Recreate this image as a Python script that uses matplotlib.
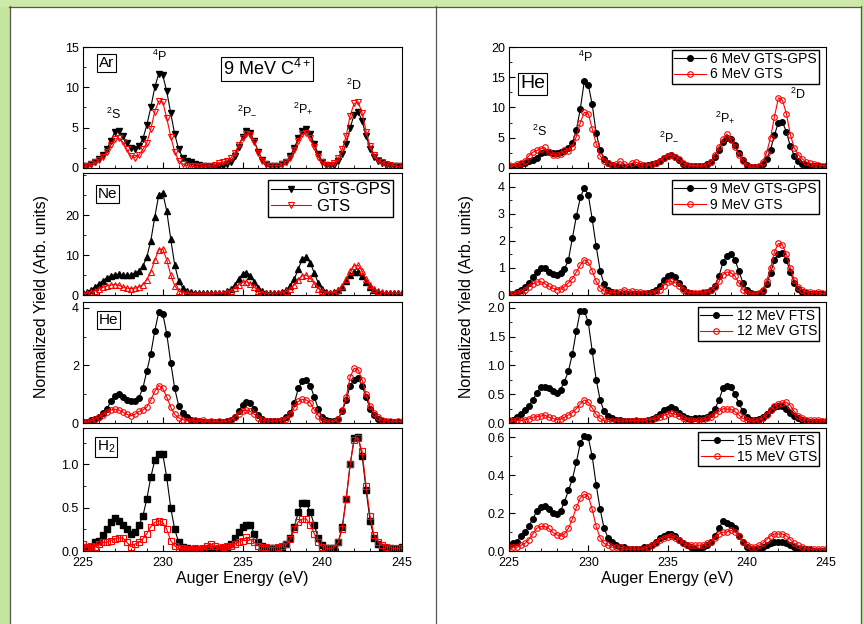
import numpy as np
import matplotlib.pyplot as plt
from matplotlib.patches import Rectangle
from matplotlib.lines import Line2D
from matplotlib.ticker import MultipleLocator, AutoMinorLocator

plt.rcParams["font.family"] = ["Liberation Sans", "DejaVu Sans"]
plt.rcParams["mathtext.fontset"] = "custom"
plt.rcParams["mathtext.rm"] = "Liberation Sans"
plt.rcParams["mathtext.it"] = "Liberation Sans:italic"
plt.rcParams["mathtext.bf"] = "Liberation Sans:bold"

# Auger energy grid (eV), 0.25 eV steps from 225 to 245
energy = np.linspace(225, 245, 81)

# ---- left column: 9 MeV C4+ on different targets ----
ar_gps = [0.2, 0.3, 0.5, 0.8, 1.1, 1.6, 2.3, 3.4,
          4.5, 4.6, 4.0, 3.1, 2.5, 2.4, 2.7, 3.6,
          5.3, 7.5, 10.0, 11.7, 11.5, 9.5, 6.8, 4.2,
          2.3, 1.3, 0.9, 0.7, 0.5, 0.4, 0.3, 0.2,
          0.1, 0.1, 0.2, 0.3, 0.5, 0.8, 1.5, 2.6,
          3.9, 4.6, 4.3, 3.3, 2.0, 1.0, 0.5, 0.3,
          0.2, 0.3, 0.5, 0.8, 1.5, 2.5, 3.7, 4.6,
          4.8, 4.2, 3.0, 1.7, 0.8, 0.4, 0.3, 0.4,
          0.9, 1.7, 3.0, 5.0, 6.6, 7.0, 5.8, 4.0,
          2.4, 1.4, 0.9, 0.6, 0.4, 0.3, 0.2, 0.2, 0.1]
ar_gts = [0.1, 0.3, 0.5, 0.7, 1.0, 1.4, 2.0, 2.9,
          3.6, 3.7, 3.2, 2.3, 1.5, 1.3, 1.6, 2.3,
          3.1, 4.8, 7.0, 8.3, 8.2, 6.2, 3.9, 2.0,
          0.9, 0.5, 0.3, 0.2, 0.2, 0.1, 0.2, 0.3,
          0.3, 0.4, 0.6, 0.7, 0.9, 1.2, 1.8, 2.8,
          3.7, 4.2, 4.1, 3.2, 1.9, 0.9, 0.5, 0.3,
          0.3, 0.3, 0.5, 0.8, 1.3, 2.2, 3.4, 4.2,
          4.3, 3.7, 2.6, 1.4, 0.7, 0.4, 0.4, 0.6,
          1.2, 2.3, 4.0, 6.5, 8.0, 8.2, 6.8, 4.5,
          2.7, 1.6, 1.0, 0.7, 0.5, 0.4, 0.3, 0.2, 0.2]

ne_gps = [0.5, 0.8, 1.3, 2.0, 2.8, 3.6, 4.3, 4.8,
          5.1, 5.2, 5.0, 4.9, 5.0, 5.4, 6.0, 7.2,
          9.5, 13.5, 19.5, 25.0, 25.5, 21.0, 14.0, 7.5,
          3.5, 1.8, 1.1, 0.8, 0.6, 0.5, 0.5, 0.4,
          0.4, 0.4, 0.5, 0.6, 0.9, 1.4, 2.5, 4.0,
          5.2, 5.6, 4.8, 3.2, 1.8, 1.0, 0.6, 0.5,
          0.5, 0.6, 0.8, 1.3, 2.3, 4.0, 6.5, 9.0,
          9.5, 8.0, 5.5, 3.0, 1.4, 0.8, 0.6, 0.7,
          1.2, 2.0, 3.5, 5.0, 5.8, 5.8, 4.8, 3.3,
          2.0, 1.2, 0.8, 0.6, 0.5, 0.5, 0.4, 0.4, 0.4]
ne_gts = [0.3, 0.5, 0.8, 1.1, 1.5, 1.9, 2.3, 2.5,
          2.6, 2.4, 2.0, 1.7, 1.6, 1.7, 2.0, 2.6,
          3.8, 5.8, 8.7, 11.3, 11.5, 8.8, 5.0, 2.3,
          1.0, 0.6, 0.4, 0.3, 0.3, 0.3, 0.3, 0.3,
          0.3, 0.4, 0.4, 0.5, 0.7, 1.0, 1.7, 2.6,
          3.2, 3.3, 2.8, 1.9, 1.1, 0.6, 0.4, 0.4,
          0.4, 0.5, 0.6, 0.9, 1.5, 2.5, 3.8, 4.8,
          5.0, 4.2, 2.8, 1.6, 0.9, 0.6, 0.5, 0.6,
          1.2, 2.3, 4.0, 6.0, 7.3, 7.4, 6.0, 4.0,
          2.4, 1.4, 0.9, 0.7, 0.5, 0.5, 0.4, 0.4, 0.3]

he_gps = [0.03, 0.05, 0.1, 0.15, 0.22, 0.35, 0.5, 0.75,
          0.95, 1.0, 0.9, 0.8, 0.75, 0.78, 0.88, 1.2,
          1.8, 2.4, 3.2, 3.85, 3.8, 3.1, 2.1, 1.2,
          0.6, 0.35, 0.2, 0.12, 0.08, 0.06, 0.05, 0.04,
          0.03, 0.03, 0.03, 0.04, 0.06, 0.1, 0.2, 0.4,
          0.62, 0.72, 0.7, 0.5, 0.28, 0.14, 0.08, 0.06,
          0.06, 0.08, 0.12, 0.2, 0.35, 0.7, 1.2, 1.45,
          1.5, 1.3, 0.9, 0.5, 0.22, 0.1, 0.06, 0.06,
          0.15, 0.4, 0.8, 1.3, 1.5, 1.55, 1.3, 0.9,
          0.5, 0.28, 0.15, 0.08, 0.05, 0.04, 0.03, 0.03, 0.03]
he_gts = [0.03, 0.05, 0.08, 0.15, 0.2, 0.28, 0.38, 0.45,
          0.48, 0.45, 0.38, 0.3, 0.25, 0.3, 0.4, 0.45,
          0.55, 0.8, 1.1, 1.3, 1.2, 0.9, 0.55, 0.3,
          0.18, 0.12, 0.08, 0.06, 0.1, 0.06, 0.1, 0.05,
          0.08, 0.05, 0.06, 0.04, 0.06, 0.1, 0.2, 0.32,
          0.42, 0.45, 0.4, 0.3, 0.18, 0.1, 0.07, 0.06,
          0.08, 0.07, 0.1, 0.15, 0.3, 0.55, 0.75, 0.82,
          0.8, 0.7, 0.45, 0.25, 0.1, 0.05, 0.04, 0.05,
          0.15, 0.45, 0.9, 1.6, 1.9, 1.85, 1.5, 1.0,
          0.6, 0.35, 0.2, 0.1, 0.08, 0.06, 0.05, 0.07, 0.05]

h2_gps = [0.05, 0.03, 0.05, 0.1, 0.12, 0.18, 0.25, 0.33,
          0.38, 0.35, 0.3, 0.25, 0.2, 0.22, 0.3, 0.4,
          0.6, 0.85, 1.05, 1.12, 1.12, 0.85, 0.5, 0.25,
          0.1, 0.05, 0.03, 0.02, 0.02, 0.02, 0.02, 0.03,
          0.02, 0.02, 0.03, 0.03, 0.05, 0.08, 0.15, 0.22,
          0.28, 0.3, 0.3, 0.2, 0.1, 0.06, 0.04, 0.03,
          0.03, 0.04, 0.05, 0.08, 0.15, 0.28, 0.45, 0.55,
          0.55, 0.45, 0.3, 0.15, 0.07, 0.03, 0.03, 0.03,
          0.1, 0.28, 0.6, 1.0, 1.3, 1.32, 1.1, 0.7,
          0.35, 0.15, 0.08, 0.05, 0.04, 0.03, 0.02, 0.02, 0.05]
h2_gts = [0.08, 0.05, 0.06, 0.05, 0.08, 0.1, 0.1, 0.12,
          0.14, 0.15, 0.15, 0.1, 0.05, 0.08, 0.1, 0.14,
          0.2, 0.28, 0.33, 0.35, 0.33, 0.25, 0.12, 0.06,
          0.03, 0.03, 0.02, 0.02, 0.03, 0.02, 0.04, 0.06,
          0.08, 0.06, 0.04, 0.05, 0.06, 0.06, 0.08, 0.1,
          0.12, 0.16, 0.13, 0.1, 0.06, 0.05, 0.05, 0.04,
          0.04, 0.05, 0.06, 0.08, 0.14, 0.25, 0.34, 0.37,
          0.37, 0.3, 0.2, 0.1, 0.05, 0.03, 0.03, 0.04,
          0.1, 0.25, 0.6, 1.0, 1.28, 1.3, 1.15, 0.75,
          0.4, 0.18, 0.1, 0.07, 0.05, 0.04, 0.03, 0.03, 0.04]

# ---- right column: He target, different projectile energies ----
mev6_gps = [0.1, 0.2, 0.3, 0.6, 0.9, 1.2, 1.4, 1.6,
            2.5, 2.7, 2.6, 2.5, 2.5, 2.6, 2.8, 3.3,
            4.2, 6.3, 9.8, 14.3, 13.8, 10.5, 5.8, 3.0,
            1.5, 0.8, 0.5, 0.3, 0.2, 0.2, 0.2, 0.3,
            0.2, 0.3, 0.4, 0.5, 0.6, 0.8, 1.2, 1.7,
            2.0, 2.1, 1.8, 1.3, 0.7, 0.4, 0.3, 0.3,
            0.3, 0.4, 0.6, 1.0, 1.8, 3.0, 4.3, 5.0,
            4.8, 3.8, 2.5, 1.3, 0.5, 0.2, 0.1, 0.2,
            0.6, 1.5, 3.0, 5.5, 7.5, 7.6, 6.0, 3.6,
            2.0, 1.1, 0.7, 0.5, 0.4, 0.3, 0.3, 0.2, 0.3]
mev6_gts = [0.5, 0.3, 0.6, 0.8, 1.2, 2.0, 2.6, 2.9,
            3.2, 3.4, 2.6, 2.2, 2.1, 2.3, 2.9, 2.8,
            3.5, 5.2, 7.5, 9.2, 9.0, 6.5, 4.0, 2.0,
            1.2, 0.8, 0.5, 0.6, 1.1, 0.7, 0.4, 0.8,
            1.0, 0.6, 0.5, 0.4, 0.6, 0.8, 1.2, 1.7,
            2.0, 2.2, 1.9, 1.5, 0.8, 0.5, 0.4, 0.4,
            0.4, 0.3, 0.5, 1.0, 2.2, 3.5, 4.8, 5.6,
            4.6, 3.5, 2.2, 1.2, 0.4, 0.1, 0.1, 0.3,
            1.0, 2.5, 5.0, 8.5, 11.6, 11.2, 9.0, 5.5,
            3.3, 2.2, 1.5, 1.0, 0.8, 0.6, 0.5, 0.4, 0.3]

mev9_gps = [0.02, 0.05, 0.1, 0.18, 0.28, 0.45, 0.65, 0.85,
            1.0, 1.0, 0.85, 0.78, 0.75, 0.8, 0.95, 1.3,
            2.1, 2.9, 3.6, 3.95, 3.7, 2.8, 1.8, 0.9,
            0.4, 0.2, 0.12, 0.08, 0.05, 0.04, 0.03, 0.03,
            0.03, 0.03, 0.04, 0.06, 0.1, 0.2, 0.35, 0.55,
            0.7, 0.75, 0.65, 0.45, 0.25, 0.12, 0.07, 0.05,
            0.05, 0.06, 0.1, 0.18, 0.35, 0.7, 1.2, 1.45,
            1.5, 1.3, 0.9, 0.45, 0.2, 0.08, 0.05, 0.05,
            0.15, 0.4, 0.8, 1.3, 1.5, 1.55, 1.3, 0.85,
            0.45, 0.22, 0.12, 0.08, 0.05, 0.04, 0.03, 0.03, 0.03]
mev9_gts = [0.05, 0.02, 0.08, 0.12, 0.2, 0.3, 0.4, 0.48,
            0.5, 0.42, 0.32, 0.25, 0.2, 0.22, 0.3, 0.45,
            0.6, 0.85, 1.1, 1.3, 1.2, 0.9, 0.5, 0.25,
            0.15, 0.1, 0.08, 0.1, 0.12, 0.2, 0.1, 0.15,
            0.1, 0.12, 0.08, 0.06, 0.06, 0.1, 0.2, 0.35,
            0.48, 0.5, 0.45, 0.35, 0.2, 0.1, 0.08, 0.08,
            0.08, 0.1, 0.12, 0.18, 0.3, 0.5, 0.75, 0.85,
            0.82, 0.7, 0.45, 0.2, 0.08, 0.05, 0.05, 0.08,
            0.2, 0.5, 1.0, 1.6, 1.9, 1.85, 1.5, 1.0,
            0.55, 0.3, 0.18, 0.12, 0.1, 0.08, 0.1, 0.06, 0.05]

mev12_fts = [0.03, 0.06, 0.1, 0.15, 0.22, 0.3, 0.4, 0.52,
             0.62, 0.63, 0.6, 0.55, 0.52, 0.58, 0.72, 0.9,
             1.2, 1.6, 1.95, 1.95, 1.75, 1.25, 0.75, 0.4,
             0.2, 0.12, 0.08, 0.06, 0.05, 0.04, 0.04, 0.03,
             0.03, 0.03, 0.04, 0.05, 0.07, 0.1, 0.15, 0.22,
             0.25, 0.28, 0.25, 0.18, 0.12, 0.08, 0.07, 0.08,
             0.08, 0.08, 0.1, 0.15, 0.25, 0.4, 0.6, 0.65,
             0.62, 0.5, 0.35, 0.2, 0.1, 0.06, 0.05, 0.07,
             0.1, 0.15, 0.22, 0.28, 0.3, 0.3, 0.25, 0.18,
             0.12, 0.08, 0.05, 0.03, 0.02, 0.01, 0.01, 0.01, 0.02]
mev12_gts = [0.05, 0.03, 0.05, 0.04, 0.06, 0.07, 0.1, 0.11,
             0.12, 0.14, 0.1, 0.08, 0.06, 0.07, 0.1, 0.14,
             0.18, 0.25, 0.33, 0.4, 0.36, 0.26, 0.15, 0.08,
             0.04, 0.03, 0.03, 0.04, 0.03, 0.03, 0.04, 0.04,
             0.05, 0.04, 0.04, 0.06, 0.06, 0.08, 0.1, 0.13,
             0.15, 0.17, 0.15, 0.12, 0.08, 0.06, 0.05, 0.04,
             0.05, 0.06, 0.08, 0.1, 0.15, 0.2, 0.25, 0.24,
             0.24, 0.2, 0.14, 0.08, 0.05, 0.03, 0.03, 0.05,
             0.08, 0.14, 0.22, 0.3, 0.33, 0.35, 0.36, 0.3,
             0.2, 0.12, 0.08, 0.06, 0.05, 0.05, 0.05, 0.04, 0.04]

mev15_fts = [0.03, 0.04, 0.05, 0.08, 0.1, 0.13, 0.17, 0.21,
             0.235, 0.24, 0.22, 0.2, 0.195, 0.21, 0.26, 0.32,
             0.38, 0.47, 0.57, 0.61, 0.6, 0.5, 0.35, 0.22,
             0.12, 0.07, 0.05, 0.03, 0.02, 0.02, 0.01, 0.01,
             0.01, 0.01, 0.02, 0.02, 0.03, 0.05, 0.07, 0.08,
             0.09, 0.09, 0.08, 0.06, 0.04, 0.03, 0.02, 0.01,
             0.0, 0.02, 0.03, 0.05, 0.08, 0.12, 0.16, 0.15,
             0.14, 0.12, 0.08, 0.05, 0.02, 0.01, 0.01, 0.01,
             0.02, 0.03, 0.04, 0.05, 0.05, 0.05, 0.04, 0.03,
             0.02, 0.01, 0.01, 0.01, 0.01, 0.0, 0.0, 0.0, 0.0]
mev15_gts = [0.02, 0.02, 0.02, 0.03, 0.04, 0.06, 0.09, 0.12,
             0.13, 0.13, 0.12, 0.1, 0.085, 0.08, 0.09, 0.12,
             0.17, 0.23, 0.28, 0.3, 0.29, 0.22, 0.13, 0.07,
             0.04, 0.03, 0.02, 0.02, 0.02, 0.01, 0.01, 0.01,
             0.01, 0.01, 0.01, 0.02, 0.03, 0.04, 0.06, 0.07,
             0.075, 0.08, 0.07, 0.06, 0.04, 0.03, 0.03, 0.03,
             0.03, 0.03, 0.04, 0.05, 0.07, 0.09, 0.1, 0.1,
             0.11, 0.1, 0.08, 0.05, 0.03, 0.02, 0.02, 0.03,
             0.04, 0.06, 0.08, 0.09, 0.09, 0.09, 0.08, 0.06,
             0.04, 0.03, 0.02, 0.01, 0.01, 0.01, 0.01, 0.01, 0.01]

peak_labels = [r"$^2$S", r"$^4$P", r"$^2$P$_{-}$", r"$^2$P$_{+}$", r"$^2$D"]
left_peak_pos = [(226.9, 6.7), (229.8, 13.8), (235.3, 7.0), (238.8, 7.4), (242.0, 10.2)]
right_peak_pos = [(226.9, 6.0), (229.8, 18.3), (235.1, 5.1), (238.65, 8.4), (243.2, 12.2)]


W, H = 864, 624
fig = plt.figure(figsize=(W / 100, H / 100), dpi=100)

green = "#c4e59c"
fig.add_artist(Rectangle((0, 0), 9 / W, 1, transform=fig.transFigure, color=green, zorder=0))
fig.add_artist(Rectangle((0, 1 - 6 / H), 1, 6 / H, transform=fig.transFigure, color="#cdeaa8", zorder=0))
fig.add_artist(Rectangle((861 / W, 0), 3 / W, 1, transform=fig.transFigure, color=green, zorder=0))
for x in (9.5, 435.5, 860.5):
    fig.add_artist(Line2D([x / W, x / W], [0, 1 - 6 / H], transform=fig.transFigure, color="#555555", lw=0.9))
fig.add_artist(Line2D([9 / W, 861 / W], [1 - 6.5 / H, 1 - 6.5 / H], transform=fig.transFigure, color="#555555", lw=0.9))

rows = [(47, 168), (173, 295), (302, 423), (428, 551)]


def make_ax(x0, x1, row):
    y0, y1 = row
    return fig.add_axes([x0 / W, 1 - y1 / H, (x1 - x0) / W, (y1 - y0) / H])


def style(ax, ymax, ystep, bottom):
    ax.set_xlim(225, 245)
    ax.set_ylim(0, ymax)
    ax.xaxis.set_major_locator(MultipleLocator(5))
    ax.xaxis.set_minor_locator(MultipleLocator(1))
    ax.yaxis.set_major_locator(MultipleLocator(ystep))
    ax.yaxis.set_minor_locator(AutoMinorLocator(2))
    ax.tick_params(which="both", direction="in", top=False, right=False, labelsize=9)
    ax.tick_params(axis="x", pad=4.5)
    ax.tick_params(axis="y", pad=3)
    ax.tick_params(which="major", length=4, width=0.8)
    ax.tick_params(which="minor", length=2, width=0.6)
    if not bottom:
        ax.tick_params(labelbottom=False)
    for s in ax.spines.values():
        s.set_linewidth(0.8)


def pair(ax, y_black, y_red, marker, lab_black, lab_red):
    ax.plot(energy, y_black, color="black", lw=0.8, marker=marker, ms=4,
            mfc="black", mec="black", label=lab_black)
    ax.plot(energy, y_red, color="red", lw=0.8, marker=marker, ms=4,
            mfc="none", mec="red", mew=0.8, label=lab_red)


def boxed(ax, x, y, s, size):
    ax.text(x, y, s, transform=ax.transAxes, ha="center", va="center", fontsize=size,
            bbox=dict(boxstyle="square,pad=0.12", fc="white", ec="black", lw=0.8))


def legend(ax, x, y, size):
    ax.legend(loc="upper right", bbox_to_anchor=(x, y), borderaxespad=0, fontsize=size,
              frameon=True, fancybox=False, framealpha=1, edgecolor="black",
              handlelength=2.3, handletextpad=0.3, borderpad=0.15, labelspacing=0.1,
              numpoints=1)


#
# Left column
#
L0, L1 = 83, 402
ax = make_ax(L0, L1, rows[0])
pair(ax, ar_gps, ar_gts, "v", "GTS-GPS", "GTS")
style(ax, 15, 5, False)
boxed(ax, 0.074, 0.868, "Ar", 11)
boxed(ax, 0.577, 0.82, r"9 MeV C$^{4+}$", 13)
for s, (px, py) in zip(peak_labels, left_peak_pos):
    ax.text(px, py, s, ha="center", va="center", fontsize=9)
ar_handles = ax.get_legend_handles_labels()

ax = make_ax(L0, L1, rows[1])
pair(ax, ne_gps, ne_gts, "^", "GTS-GPS", "GTS")
style(ax, 30.5, 10, False)
ax.set_yticks([0, 10, 20])
boxed(ax, 0.078, 0.83, "Ne", 11)
ax.legend(*ar_handles, loc="upper right", bbox_to_anchor=(0.972, 0.943), borderaxespad=0,
          fontsize=12, frameon=True, fancybox=False, framealpha=1, edgecolor="black",
          handlelength=2.4, handletextpad=0.3, borderpad=0.15, labelspacing=0.1, numpoints=1)

ax = make_ax(L0, L1, rows[2])
pair(ax, he_gps, he_gts, "o", "GTS-GPS", "GTS")
style(ax, 4.2, 2, False)
boxed(ax, 0.081, 0.85, "He", 11)

ax = make_ax(L0, L1, rows[3])
pair(ax, h2_gps, h2_gts, "s", "GTS-GPS", "GTS")
style(ax, 1.42, 0.5, True)
boxed(ax, 0.072, 0.845, r"H$_2$", 11)
ax.set_xlabel("Auger Energy (eV)", fontsize=11.5, labelpad=1)

#
# Right column
#
R0, R1 = 509, 826
ax = make_ax(R0, R1, rows[0])
pair(ax, mev6_gps, mev6_gts, "o", "6 MeV GTS-GPS", "6 MeV GTS")
style(ax, 20, 5, False)
boxed(ax, 0.074, 0.696, "He", 14)
for s, (px, py) in zip(peak_labels, right_peak_pos):
    ax.text(px, py, s, ha="center", va="center", fontsize=9)
legend(ax, 0.978, 0.975, 10)

ax = make_ax(R0, R1, rows[1])
pair(ax, mev9_gps, mev9_gts, "o", "9 MeV GTS-GPS", "9 MeV GTS")
style(ax, 4.5, 1, False)
legend(ax, 0.978, 0.942, 10)

ax = make_ax(R0, R1, rows[2])
pair(ax, mev12_fts, mev12_gts, "o", "12 MeV FTS", "12 MeV GTS")
style(ax, 2.1, 0.5, False)
legend(ax, 0.978, 0.959, 10)

ax = make_ax(R0, R1, rows[3])
pair(ax, mev15_fts, mev15_gts, "o", "15 MeV FTS", "15 MeV GTS")
style(ax, 0.65, 0.2, True)
legend(ax, 0.978, 0.967, 10)
ax.set_xlabel("Auger Energy (eV)", fontsize=11.5, labelpad=1)

ymid = 1 - 297 / H
fig.text(42 / W, ymid, "Normalized Yield (Arb. units)", rotation=90, ha="center", va="center", fontsize=11.5)
fig.text(466 / W, ymid, "Normalized Yield (Arb. units)", rotation=90, ha="center", va="center", fontsize=11.5)

fig.savefig("out.png", dpi=100)
